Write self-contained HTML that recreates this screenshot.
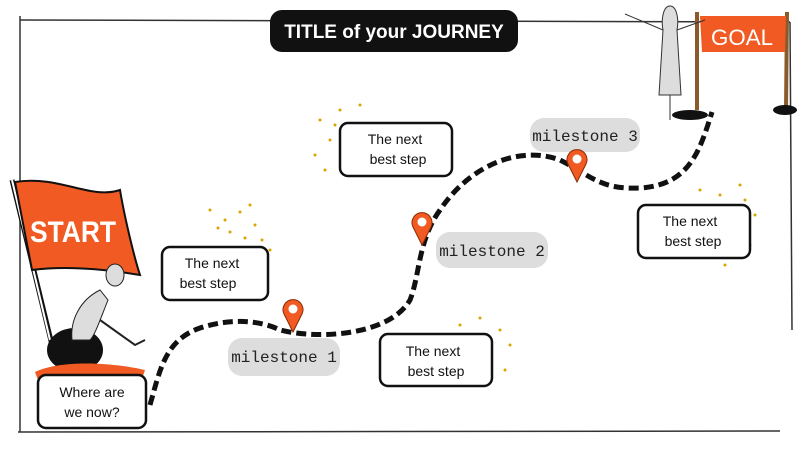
<!DOCTYPE html>
<html><head><meta charset="utf-8"><style>
html,body{margin:0;padding:0;background:#fff}
svg{display:block}
text{font-family:"Liberation Sans",sans-serif}
.box{fill:#fff;stroke:#111;stroke-width:2.5}
.bt{font-size:14px;fill:#111;text-anchor:middle}
.ms{font-family:"Liberation Mono",monospace;font-size:16px;fill:#222;text-anchor:middle}
</style></head><body>
<svg width="800" height="450" viewBox="0 0 800 450">
<g stroke="#333" stroke-width="1.5" fill="none">
<path d="M20 16 L20 432"/>
<path d="M20 20 L790 22"/>
<path d="M18 432 L780 431"/>
<path d="M790 22 L792 330"/>
</g>
<rect x="270" y="10" width="248" height="42" rx="12" fill="#111"/>
<text x="394" y="38" font-size="19" font-weight="bold" fill="#fff" text-anchor="middle">TITLE of your JOURNEY</text>
<g fill="#d9a400">
<circle cx="210" cy="210" r="1.5"/><circle cx="225" cy="220" r="1.5"/><circle cx="240" cy="212" r="1.5"/><circle cx="255" cy="225" r="1.5"/><circle cx="262" cy="240" r="1.5"/><circle cx="230" cy="232" r="1.5"/><circle cx="245" cy="238" r="1.5"/><circle cx="270" cy="250" r="1.5"/><circle cx="218" cy="228" r="1.5"/><circle cx="250" cy="205" r="1.5"/>
<circle cx="320" cy="120" r="1.5"/><circle cx="330" cy="140" r="1.5"/><circle cx="315" cy="155" r="1.5"/><circle cx="340" cy="110" r="1.5"/><circle cx="360" cy="105" r="1.5"/><circle cx="325" cy="170" r="1.5"/><circle cx="335" cy="125" r="1.5"/>
<circle cx="700" cy="190" r="1.5"/><circle cx="720" cy="195" r="1.5"/><circle cx="740" cy="185" r="1.5"/><circle cx="745" cy="200" r="1.5"/><circle cx="755" cy="215" r="1.5"/><circle cx="750" cy="245" r="1.5"/><circle cx="725" cy="265" r="1.5"/>
<circle cx="460" cy="325" r="1.5"/><circle cx="480" cy="318" r="1.5"/><circle cx="500" cy="330" r="1.5"/><circle cx="510" cy="345" r="1.5"/><circle cx="505" cy="370" r="1.5"/>
</g>
<path d="M150 405 C160 370,165 340,200 328 C230 318,260 320,280 330 C320 340,390 335,410 300 C420 275,418 240,440 210 C470 165,520 145,560 160 C590 175,600 190,640 188 C690 185,700 150,712 112" fill="none" stroke="#111" stroke-width="5" stroke-dasharray="10 5"/>
<path d="M12 180 L52 345" stroke="#111" stroke-width="5"/>
<path d="M12 180 L50 340" stroke="#fff" stroke-width="2"/>
<path d="M15 182 C60 175,90 200,120 190 C125 220,135 260,140 275 C110 270,70 265,32 270 Z" fill="#f15a22" stroke="#111" stroke-width="2"/>
<text x="30" y="242" font-size="30" font-weight="bold" fill="#fff" textLength="86" lengthAdjust="spacingAndGlyphs">START</text>
<ellipse cx="75" cy="350" rx="28" ry="22" fill="#111"/>
<path d="M35 372 C60 360,110 362,145 370 L140 385 L40 385 Z" fill="#f15a22"/>
<path d="M72 340 C70 320,80 300,100 290 L108 300 C100 320,95 335,90 340 Z" fill="#ddd" stroke="#222"/>
<ellipse cx="115" cy="275" rx="9" ry="11" fill="#ddd" stroke="#222"/>
<path d="M100 320 L135 345 L145 340" fill="none" stroke="#222" stroke-width="2"/>
<path d="M697 12 L697 110 M787 12 L786 110" stroke="#8a5a2a" stroke-width="4"/>
<path d="M700 16 L786 16 L785 52 L702 52 Z" fill="#f15a22"/>
<text x="742" y="45" font-size="22" fill="#fff" text-anchor="middle" textLength="62" lengthAdjust="spacingAndGlyphs">GOAL</text>
<path d="M670 6 C663 6,661 20,663 30 L659 95 L681 95 L677 30 C679 20,677 6,670 6 Z" fill="#ddd" stroke="#333"/>
<path d="M663 30 L625 14 M677 30 L705 20" stroke="#333" fill="none"/>
<path d="M670 95 L670 120" stroke="#333"/>
<ellipse cx="690" cy="115" rx="18" ry="5" fill="#111"/><ellipse cx="785" cy="110" rx="12" ry="5" fill="#111"/>
<rect class="box" x="38" y="375" width="108" height="53" rx="8"/>
<text class="bt" x="92" y="397">Where are</text><text class="bt" x="92" y="417">we now?</text>
<rect class="box" x="162" y="247" width="106" height="53" rx="8"/>
<text class="bt" x="212" y="268">The next</text><text class="bt" x="208" y="288">best step</text>
<rect class="box" x="340" y="123" width="112" height="53" rx="8"/>
<text class="bt" x="395" y="144">The next</text><text class="bt" x="398" y="164">best step</text>
<rect class="box" x="380" y="334" width="112" height="52" rx="8"/>
<text class="bt" x="433" y="356">The next</text><text class="bt" x="436" y="376">best step</text>
<rect class="box" x="638" y="205" width="112" height="53" rx="8"/>
<text class="bt" x="690" y="226">The next</text><text class="bt" x="693" y="246">best step</text>
<rect x="228" y="338" width="112" height="38" rx="14" fill="#ddd"/>
<text class="ms" x="284" y="362">milestone 1</text>
<rect x="436" y="232" width="112" height="36" rx="14" fill="#ddd"/>
<text class="ms" x="492" y="256">milestone 2</text>
<rect x="530" y="118" width="110" height="34" rx="14" fill="#ddd"/>
<text class="ms" x="585" y="141">milestone 3</text>
<g fill="#f15a22" stroke="#8a2a00" stroke-width="1">
<path d="M293 332 L284 314 A10 10 0 1 1 302 314 Z"/>
<path d="M422 245 L413 227 A10 10 0 1 1 431 227 Z"/>
<path d="M577 182 L568 164 A10 10 0 1 1 586 164 Z"/>
</g>
<g fill="#fff"><circle cx="293" cy="309" r="4.5"/><circle cx="422" cy="222" r="4.5"/><circle cx="577" cy="159" r="4.5"/></g>
</svg>
</body></html>
